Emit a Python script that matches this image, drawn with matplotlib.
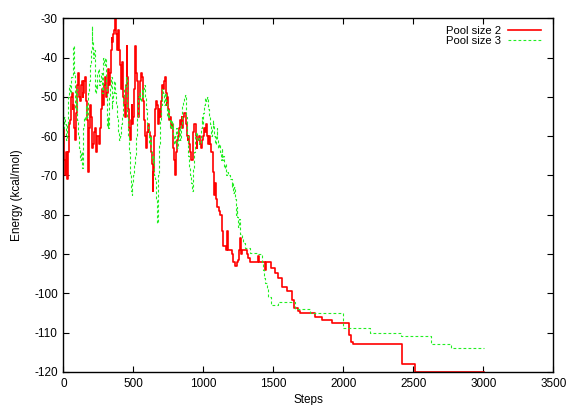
import matplotlib
matplotlib.use("Agg")
import matplotlib.pyplot as plt

plt.rcParams['font.family'] = ['Liberation Sans', 'DejaVu Sans']
plt.rcParams['axes.unicode_minus'] = False

# Pool size 2 (holds value until next step)
steps_2 = [0, 5, 10, 17, 24, 30, 36, 42, 48, 54, 60, 66, 72, 78, 83, 89, 95, 101, 107, 113,
           119, 125, 131, 137, 143, 149, 155, 161, 167, 173, 179, 185, 190, 196, 202, 208, 214, 220, 226, 232,
           238, 244, 250, 256, 262, 268, 274, 280, 286, 292, 298, 304, 310, 316, 321, 328, 334, 340, 345, 351,
           357, 363, 369, 375, 381, 387, 393, 399, 405, 411, 417, 423, 429, 435, 440, 446, 452, 458, 464, 470,
           476, 482, 488, 494, 500, 506, 512, 518, 524, 530, 536, 542, 548, 554, 560, 566, 572, 578, 584, 590,
           595, 601, 607, 613, 619, 625, 631, 637, 643, 649, 655, 661, 667, 673, 679, 685, 690, 696, 702, 708,
           714, 720, 726, 732, 738, 744, 750, 756, 762, 768, 774, 780, 786, 792, 798, 804, 810, 815, 821, 827,
           833, 839, 845, 851, 857, 863, 869, 875, 881, 887, 893, 899, 905, 911, 917, 923, 929, 935, 940, 946,
           952, 958, 964, 970, 976, 982, 988, 994, 1000, 1006, 1012, 1018, 1024, 1030, 1036, 1042, 1048, 1054, 1060, 1066,
           1071, 1075, 1083, 1089, 1095, 1101, 1113, 1119, 1137, 1143, 1165, 1171, 1177, 1202, 1210, 1226, 1240, 1250, 1256, 1262,
           1268, 1274, 1309, 1320, 1333, 1390, 1400, 1440, 1445, 1480, 1510, 1535, 1559, 1565, 1600, 1631, 1637, 1650, 1673, 1690,
           1800, 1850, 1917, 2040, 2055, 2068, 2420, 2510, 3005]
energy_2 = [-58, -66, -70, -64, -71, -66, -64, -57, -56, -50, -49, -53, -52, -58, -61, -54, -49, -47, -44, -50,
            -51, -47, -46, -50, -49, -46, -45, -51, -56, -62, -69, -58, -52, -55, -58, -63, -62, -59, -58, -64,
            -63, -60, -60, -62, -58, -53, -48, -50, -52, -47, -45, -50, -49, -45, -43, -47, -44, -38, -35, -36,
            -34, -33, -30, -34, -38, -35, -33, -38, -42, -48, -41, -44, -50, -52, -55, -47, -37, -45, -53, -58,
            -61, -56, -52, -57, -55, -48, -37, -44, -46, -51, -55, -50, -46, -44, -45, -50, -51, -56, -60, -63,
            -62, -59, -57, -59, -60, -64, -67, -74, -69, -60, -53, -51, -52, -55, -57, -53, -55, -51, -49, -47,
            -48, -46, -45, -49, -52, -50, -53, -56, -55, -58, -57, -60, -63, -66, -70, -64, -62, -61, -60, -58,
            -56, -57, -55, -58, -55, -54, -54, -57, -60, -61, -60, -62, -64, -66, -66, -62, -59, -57, -57, -60,
            -63, -61, -61, -60, -62, -63, -63, -61, -60, -58, -59, -57, -60, -62, -62, -60, -62, -64, -64, -67,
            -69, -75, -72, -76, -77, -78, -79, -80, -84, -88, -89, -84, -89, -90, -92, -93, -92, -91.5, -89, -86,
            -90, -89, -90, -91, -92, -90.6, -92, -94, -92, -93.6, -94.9, -96, -97, -98.3, -99.4, -100, -101.7, -103.8, -104.6, -105,
            -105.9, -106.7, -107.6, -110.6, -112.3, -112.9, -118, -120, -120]

# Pool size 3
steps_3 = [0, 6, 12, 18, 24, 30, 36, 42, 48, 54, 60, 66, 72, 78, 83, 89, 95, 101, 107, 113,
           119, 125, 131, 137, 143, 149, 155, 161, 167, 173, 179, 185, 190, 196, 202, 208, 214, 220, 226, 232,
           238, 244, 250, 256, 262, 268, 274, 280, 286, 292, 298, 304, 310, 316, 321, 328, 333, 339, 345, 351,
           357, 363, 369, 375, 381, 387, 393, 399, 405, 411, 417, 423, 429, 435, 441, 446, 452, 458, 464, 470,
           476, 482, 488, 494, 500, 506, 512, 518, 524, 530, 536, 542, 548, 554, 560, 566, 572, 578, 583, 589,
           595, 601, 607, 613, 619, 625, 631, 637, 643, 649, 655, 661, 667, 672, 678, 684, 690, 696, 702, 708,
           714, 720, 726, 732, 738, 744, 750, 756, 762, 768, 774, 780, 786, 792, 798, 804, 810, 815, 821, 827,
           833, 839, 845, 851, 857, 863, 869, 875, 881, 887, 893, 899, 905, 911, 917, 923, 929, 935, 941, 946,
           952, 958, 964, 970, 976, 982, 988, 994, 1000, 1006, 1012, 1018, 1024, 1030, 1036, 1042, 1048, 1054, 1060, 1066,
           1071, 1077, 1083, 1089, 1095, 1101, 1107, 1113, 1119, 1125, 1131, 1137, 1143, 1149, 1155, 1161, 1167, 1179, 1190, 1202,
           1208, 1214, 1220, 1226, 1232, 1238, 1244, 1250, 1256, 1262, 1274, 1286, 1298, 1333, 1381, 1416, 1428, 1434, 1440, 1452,
           1464, 1480, 1536, 1655, 1762, 2000, 2190, 2412, 2624, 2769, 3005]
energy_3 = [-58, -55, -57, -61, -57, -52, -50, -47, -49, -45, -45, -40, -37, -44, -53, -48, -50, -56, -60, -63,
            -66, -64, -68, -62, -58, -55, -56, -52, -55, -51, -49, -46, -42, -38, -32, -36, -40, -38, -49, -47,
            -48, -44, -43, -47, -46, -44, -49, -44, -40, -42, -40, -48, -57.6, -55, -58, -50, -47.5, -45, -53, -51,
            -49, -46, -49, -52, -55, -58, -59, -61, -60, -57, -55, -52, -50, -48, -47, -45, -49, -55, -60, -64,
            -70, -74, -75, -72, -70, -67, -65, -60, -55, -52, -50, -49, -51, -50, -48, -50, -48, -47, -50, -53,
            -55, -57, -58, -62, -60, -64, -66, -67, -65, -70, -71, -76, -80, -82, -70, -62, -56, -52, -50, -48,
            -49, -52, -49, -51, -54, -55, -53, -56, -58, -56, -58, -57, -60, -62, -60, -58, -61, -63, -61, -58,
            -61, -57, -55, -52, -51, -50, -49.5, -55, -60, -63, -65, -68, -70, -72, -74, -69, -68, -64, -60, -59,
            -59, -61, -60.5, -62, -62, -58, -55, -57, -54, -52, -50.4, -51, -50, -53, -53, -55, -57, -60, -58, -56,
            -57, -60, -62, -60, -58, -61, -63, -62, -64, -66, -63, -66, -65, -68, -67, -70, -69, -70, -71, -73,
            -72, -74.5, -73, -76, -80, -78, -80.5, -83, -81, -85, -86, -87.2, -88.5, -89.8, -90, -92, -94, -96, -97.4, -99,
            -100.8, -102.9, -102.1, -104, -105, -108.9, -110, -110.8, -112.9, -113.9, -113.9]

fig = plt.figure(figsize=(5.69, 4.05), dpi=100)
ax = fig.add_axes([0.1113, 0.0815, 0.8611, 0.8733])

ax.plot(steps_2, energy_2, drawstyle='steps-post', color='#ff0000', lw=1.2, label='Pool size 2')
ax.plot(steps_3, energy_3, drawstyle='steps-post', color='#22ee22', lw=0.8,
        dashes=(2.5, 2), label='Pool size 3')

ax.set_xlim(0, 3500)
ax.set_ylim(-120, -30)
ax.set_xticks(range(0, 3501, 500))
ax.set_yticks(range(-120, -29, 10))
ax.tick_params(direction='in', top=True, right=True, length=4.5, width=0.8, labelsize=8.5, pad=4)
for sp in ax.spines.values():
    sp.set_linewidth(1.0)

ax.set_xlabel('Steps', fontsize=8.5, labelpad=3)
ax.set_ylabel('Energy (kcal/mol)', fontsize=8.5, labelpad=8)

ax.legend(loc='upper right', frameon=False, markerfirst=False, fontsize=8.1,
          handlelength=3.0, handletextpad=0.6, labelspacing=0.0,
          borderaxespad=0.0, bbox_to_anchor=(0.985, 0.991))

fig.savefig('out.png', dpi=100)
